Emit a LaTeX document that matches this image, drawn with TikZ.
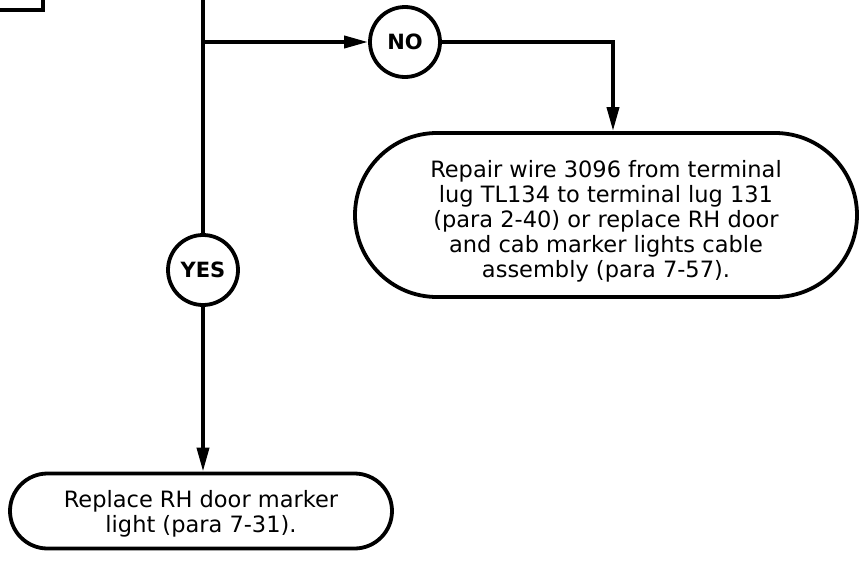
\documentclass[tikz,border=0pt]{standalone}
\usepackage{fontspec}
\setmainfont{DejaVu Sans}
\usetikzlibrary{shapes.misc,arrows.meta}
\tikzset{
  line/.style={line width=3.8pt},
  arr/.style={line, -{Triangle[length=24pt,width=12pt]}},
  stadium/.style={rounded rectangle, draw, line width=3.8pt, align=center, inner sep=0pt,
    font=\fontsize{22.5pt}{25pt}\selectfont},
  dec/.style={circle, draw, line width=3.8pt, minimum size=70pt, inner sep=0pt,
    font=\fontsize{21pt}{24pt}\selectfont\bfseries}
}
\begin{document}
\begin{tikzpicture}[x=1pt,y=-1pt]
\useasboundingbox (0,0) rectangle (859,565);
% partial box at top left
\draw[line] (-10,10) -- (43,10) -- (43,-10);
\coordinate (top) at (203,-5);
\coordinate (br) at (203,42);
\node[dec] (no) at (405,42) {NO};
\node[dec] (yes) at (203,270) {YES};
\node[stadium, minimum width=502pt, minimum height=164pt] (fix) at (606,215)
  {\raisebox{-13pt}[0pt][0pt]{\begin{tabular}{@{}c@{}}Repair wire 3096 from terminal\\ lug TL134 to terminal lug 131\\ (para 2-40) or replace RH door\\ and cab marker lights cable\\ assembly (para 7-57).\end{tabular}}};
\node[stadium, minimum width=382pt, minimum height=75pt] (rep) at (201,511)
  {\raisebox{-9pt}[0pt][0pt]{\begin{tabular}{@{}c@{}}Replace RH door marker\\ light (para 7-31).\end{tabular}}};
\coordinate (nx) at (613,42);
\draw[line] (top) -- (yes);
\draw[arr] (br) -- (no);
\draw[arr] (no) -- (nx) -- (nx |- fix.north);
\draw[arr] (yes) -- (yes |- rep.north);
\end{tikzpicture}
\end{document}
